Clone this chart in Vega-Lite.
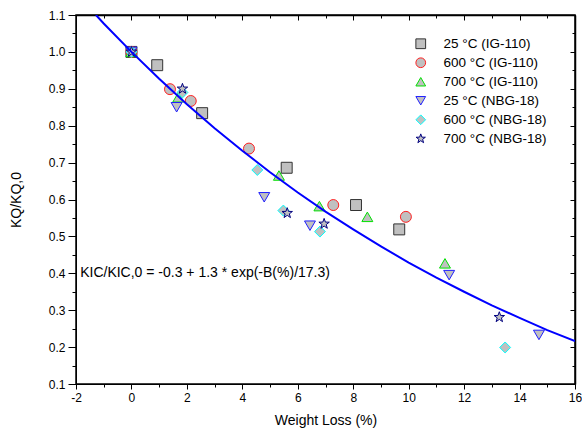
{
  "$schema": "https://vega.github.io/schema/vega-lite/v6.json",
  "width": 499,
  "height": 369,
  "autosize": {"type": "none"},
  "padding": {"left": 76, "top": 15, "right": 7, "bottom": 56},
  "config": {
    "font": "Liberation Sans",
    "view": {"stroke": "black", "strokeWidth": 1.5},
    "axis": {"domainColor": "black", "tickColor": "black", "labelColor": "black", "titleColor": "black", "labelFont": "Liberation Sans", "titleFont": "Liberation Sans", "labelFontSize": 12, "titleFontSize": 14, "titleFontWeight": "normal", "grid": false, "labelOverlap": false, "labelFlush": false}
  },
  "datasets": {
    "pts": [
      {"series": "25 °C (IG-110)", "wl": 0, "k": 1.0},
      {"series": "25 °C (IG-110)", "wl": 0.93, "k": 0.964},
      {"series": "25 °C (IG-110)", "wl": 2.55, "k": 0.834},
      {"series": "25 °C (IG-110)", "wl": 5.6, "k": 0.686},
      {"series": "25 °C (IG-110)", "wl": 8.1, "k": 0.585},
      {"series": "25 °C (IG-110)", "wl": 9.66, "k": 0.519},
      {"series": "600 °C (IG-110)", "wl": 0, "k": 1.0},
      {"series": "600 °C (IG-110)", "wl": 1.39, "k": 0.899},
      {"series": "600 °C (IG-110)", "wl": 2.14, "k": 0.867},
      {"series": "600 °C (IG-110)", "wl": 4.24, "k": 0.738},
      {"series": "600 °C (IG-110)", "wl": 7.28, "k": 0.585},
      {"series": "600 °C (IG-110)", "wl": 9.9, "k": 0.553},
      {"series": "700 °C (IG-110)", "wl": 0, "k": 1.0},
      {"series": "700 °C (IG-110)", "wl": 1.69, "k": 0.877},
      {"series": "700 °C (IG-110)", "wl": 5.32, "k": 0.665},
      {"series": "700 °C (IG-110)", "wl": 6.78, "k": 0.582},
      {"series": "700 °C (IG-110)", "wl": 8.51, "k": 0.553},
      {"series": "700 °C (IG-110)", "wl": 11.31, "k": 0.427},
      {"series": "25 °C (NBG-18)", "wl": 0, "k": 1.0},
      {"series": "25 °C (NBG-18)", "wl": 1.63, "k": 0.85},
      {"series": "25 °C (NBG-18)", "wl": 4.79, "k": 0.606},
      {"series": "25 °C (NBG-18)", "wl": 6.44, "k": 0.529},
      {"series": "25 °C (NBG-18)", "wl": 11.46, "k": 0.395},
      {"series": "25 °C (NBG-18)", "wl": 14.7, "k": 0.233},
      {"series": "600 °C (NBG-18)", "wl": 0, "k": 1.0},
      {"series": "600 °C (NBG-18)", "wl": 1.84, "k": 0.89},
      {"series": "600 °C (NBG-18)", "wl": 4.54, "k": 0.68},
      {"series": "600 °C (NBG-18)", "wl": 5.48, "k": 0.57},
      {"series": "600 °C (NBG-18)", "wl": 6.8, "k": 0.513},
      {"series": "600 °C (NBG-18)", "wl": 13.48, "k": 0.199},
      {"series": "700 °C (NBG-18)", "wl": 0, "k": 1.0},
      {"series": "700 °C (NBG-18)", "wl": 1.84, "k": 0.9},
      {"series": "700 °C (NBG-18)", "wl": 5.62, "k": 0.563},
      {"series": "700 °C (NBG-18)", "wl": 6.95, "k": 0.534},
      {"series": "700 °C (NBG-18)", "wl": 13.27, "k": 0.281}
    ],
    "fit": [
      {"wl": -1.28, "k": 1.1},
      {"wl": -1, "k": 1.077},
      {"wl": 0, "k": 1.0},
      {"wl": 1, "k": 0.927},
      {"wl": 2, "k": 0.858},
      {"wl": 3, "k": 0.793},
      {"wl": 4, "k": 0.732},
      {"wl": 5, "k": 0.674},
      {"wl": 6, "k": 0.619},
      {"wl": 7, "k": 0.567},
      {"wl": 8, "k": 0.519},
      {"wl": 9, "k": 0.473},
      {"wl": 10, "k": 0.429},
      {"wl": 11, "k": 0.388},
      {"wl": 12, "k": 0.35},
      {"wl": 13, "k": 0.313},
      {"wl": 14, "k": 0.279},
      {"wl": 15, "k": 0.246},
      {"wl": 16, "k": 0.216}
    ],
    "note": [
      {"wl": -1.85, "k": 0.402, "text": "KIC/KIC,0 = -0.3 + 1.3 * exp(-B(%)/17.3)"}
    ]
  },
  "layer": [
    {
      "data": {"name": "pts"},
      "mark": {"type": "point", "filled": true, "fill": "#c0c0c0", "fillOpacity": 1, "strokeWidth": 1, "opacity": 1},
      "encoding": {
        "x": {"field": "wl", "type": "quantitative", "scale": {"domain": [-2, 16], "nice": false, "zero": false},
          "axis": {"orient": "bottom", "title": "Weight Loss (%)", "values": [-2,-1,0,1,2,3,4,5,6,7,8,9,10,11,12,13,14,15,16],
            "tickSize": {"condition": {"test": "datum.value % 2 === 0", "value": 5}, "value": 3},
            "labelExpr": "datum.value % 2 === 0 ? replace(datum.label, '−', '-') : ''", "labelPadding": 3, "titlePadding": 10}},
        "y": {"field": "k", "type": "quantitative", "scale": {"domain": [0.1, 1.1], "nice": false, "zero": false},
          "axis": {"orient": "left", "title": "KQ/KQ,0", "values": [0.1,0.15,0.2,0.25,0.3,0.35,0.4,0.45,0.5,0.55,0.6,0.65,0.7,0.75,0.8,0.85,0.9,0.95,1.0,1.05,1.1],
            "tickSize": {"condition": {"test": "abs(datum.value*10 - round(datum.value*10)) < 0.01", "value": 8}, "value": 4},
            "labelExpr": "abs(datum.value*10 - round(datum.value*10)) < 0.01 ? format(datum.value, '.1f') : ''", "labelPadding": 3, "titlePadding": 25}},
        "stroke": {"field": "series", "type": "nominal",
          "scale": {"domain": ["25 °C (IG-110)", "600 °C (IG-110)", "700 °C (IG-110)", "25 °C (NBG-18)", "600 °C (NBG-18)", "700 °C (NBG-18)"],
            "range": ["#333333", "#ff2020", "#00e000", "#2020ff", "#00ffff", "#000080"]},
          "legend": {"title": null, "orient": "none", "legendX": 338, "legendY": 22, "labelFontSize": 13.5, "labelFont": "Liberation Sans", "labelColor": "black", "rowPadding": 4, "symbolSize": 95, "symbolFillColor": "#c0c0c0", "symbolStrokeWidth": 1, "labelOffset": 16, "padding": 0}},
        "shape": {"field": "series", "type": "nominal",
          "scale": {"domain": ["25 °C (IG-110)", "600 °C (IG-110)", "700 °C (IG-110)", "25 °C (NBG-18)", "600 °C (NBG-18)", "700 °C (NBG-18)"],
            "range": ["square", "circle", "triangle-up", "triangle-down", "diamond", "M0,-1L0.235,-0.324L0.951,-0.309L0.38,0.124L0.588,0.809L0,0.4L-0.588,0.809L-0.38,0.124L-0.951,-0.309L-0.235,-0.324Z"]},
          "legend": {"title": null, "orient": "none", "legendX": 338, "legendY": 22, "labelFontSize": 13.5, "labelFont": "Liberation Sans", "labelColor": "black", "rowPadding": 4, "symbolSize": 95, "symbolFillColor": "#c0c0c0", "symbolStrokeWidth": 1, "labelOffset": 16, "padding": 0}},
        "size": {"value": 120}
      }
    },
    {
      "data": {"name": "fit"},
      "mark": {"type": "line", "color": "#0000ff", "strokeWidth": 2, "clip": true},
      "encoding": {
        "x": {"field": "wl", "type": "quantitative",
          "axis": {"orient": "top", "title": null, "labels": false, "domainWidth": 1.5, "values": [-2,-1,0,1,2,3,4,5,6,7,8,9,10,11,12,13,14,15,16],
            "tickSize": {"condition": {"test": "datum.value % 2 === 0", "value": -5}, "value": -3}}},
        "y": {"field": "k", "type": "quantitative",
          "axis": {"orient": "right", "title": null, "labels": false, "domainWidth": 1.5, "values": [0.1,0.15,0.2,0.25,0.3,0.35,0.4,0.45,0.5,0.55,0.6,0.65,0.7,0.75,0.8,0.85,0.9,0.95,1.0,1.05,1.1],
            "tickSize": {"condition": {"test": "abs(datum.value*10 - round(datum.value*10)) < 0.01", "value": -5}, "value": -3}}}
      }
    },
    {
      "data": {"name": "note"},
      "mark": {"type": "text", "align": "left", "baseline": "middle", "fontSize": 14, "font": "Liberation Sans", "color": "black"},
      "encoding": {
        "x": {"field": "wl", "type": "quantitative", "axis": null},
        "y": {"field": "k", "type": "quantitative", "axis": null},
        "text": {"field": "text"}
      }
    }
  ],
  "resolve": {"axis": {"x": "independent", "y": "independent"}}
}
